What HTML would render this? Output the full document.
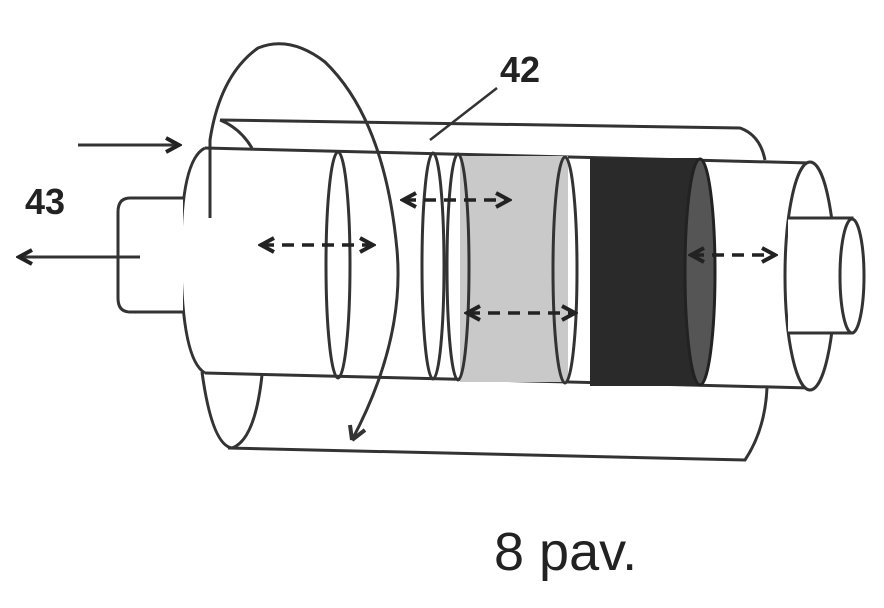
<!DOCTYPE html>
<html><head><meta charset="utf-8"><style>body{margin:0;background:#fff}svg{display:block}</style></head><body>
<svg width="884" height="608" viewBox="0 0 884 608" xmlns="http://www.w3.org/2000/svg">
<defs>
<marker id="ah2" markerWidth="18" markerHeight="18" refX="14" refY="9" orient="auto-start-reverse" markerUnits="userSpaceOnUse"><path d="M2,2 L15,9 L2,16" fill="none" stroke="#222" stroke-width="4"/></marker>
</defs>
<g fill="none" stroke="#333" stroke-width="3">
<path d="M220,120 L740,128 Q760,135 765,160"/>
<path d="M228,448 L745,460 Q765,430 767,388"/>
<path d="M220,120 Q240,128 252,148"/>
<path d="M202,372 Q212,445 232,448 Q255,440 262,375"/>
<path d="M205,148 L810,163"/>
<path d="M205,373 L810,388"/>
<path d="M205,148 Q180,160 181,260 Q182,360 205,373" fill="#fff"/>
<path d="M183,198 L130,198 Q118,198 118,212 L118,298 Q118,312 130,312 L183,312" fill="#fff"/>
<rect x="460" y="156" width="108" height="226" fill="#c9c9c9" stroke="none"/>
<rect x="590" y="158" width="110" height="228" fill="#2a2a2a" stroke="none"/>
<ellipse cx="700" cy="272" rx="15" ry="113" fill="#555" stroke="#222"/>
<ellipse cx="338" cy="265" rx="12" ry="113"/>
<ellipse cx="433" cy="266" rx="11" ry="113"/>
<ellipse cx="458" cy="267" rx="11" ry="113"/>
<ellipse cx="565" cy="270" rx="12" ry="113"/>
<ellipse cx="810" cy="276" rx="25" ry="114" fill="#fff"/>
<path d="M788,218 L852,218 L852,333 L788,333" fill="#fff"/>
<ellipse cx="852" cy="276" rx="12" ry="57" fill="#fff"/>
<path d="M352,440 Q405,340 397,250 Q385,120 325,62 Q290,35 258,48 Q220,75 210,140 L210,218" />
<path d="M352,440 L350,425 M352,440 L365,430" stroke-width="4"/>
<path d="M497,88 L430,140" stroke-width="2.5"/>
<path d="M78,145 L178,145" marker-end="url(#ah2)"/>
<path d="M140,257 L20,257" marker-end="url(#ah2)"/>
<g stroke="#222" stroke-width="3.5" stroke-dasharray="12,8">
<path d="M262,245 L372,245" marker-start="url(#ah2)" marker-end="url(#ah2)"/>
<path d="M404,200 L508,200" marker-start="url(#ah2)" marker-end="url(#ah2)"/>
<path d="M468,313 L574,313" marker-start="url(#ah2)" marker-end="url(#ah2)"/>
<path d="M692,255 L774,255" marker-start="url(#ah2)" marker-end="url(#ah2)"/>
</g>
</g>
<text x="500" y="82" font-family="Liberation Sans, sans-serif" font-weight="bold" font-size="36" fill="#222">42</text>
<text x="25" y="214" font-family="Liberation Sans, sans-serif" font-weight="bold" font-size="36" fill="#222">43</text>
<text x="494" y="570" font-family="Liberation Sans, sans-serif" font-size="54" fill="#222">8 pav.</text>
</svg>
</body></html>
